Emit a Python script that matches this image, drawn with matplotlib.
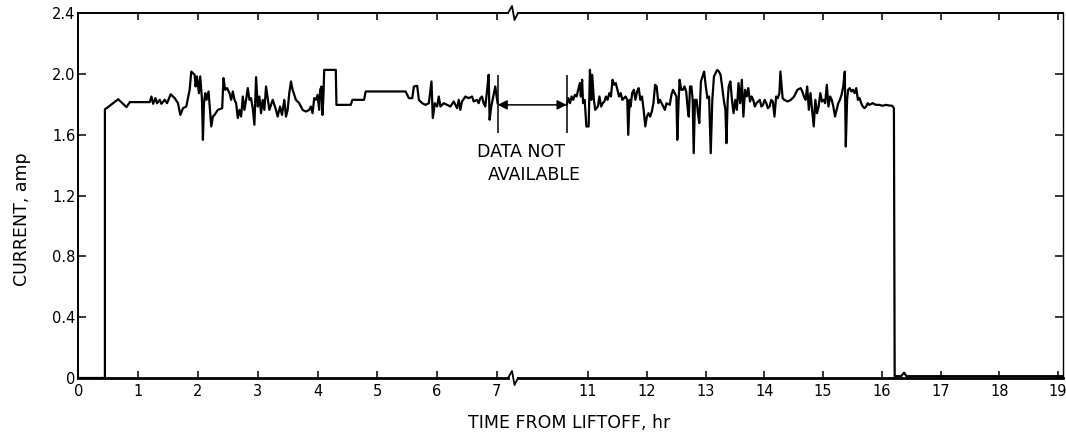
import matplotlib
matplotlib.use("Agg")
import matplotlib.pyplot as plt
from matplotlib.lines import Line2D
from matplotlib.patches import ConnectionPatch

# current trace before the data gap (hours from liftoff, amp)
hours_a = [0.0, 0.445, 0.445, 0.473, 0.667, 0.806, 0.862, 1.195, 1.223, 1.251,
           1.289, 1.317, 1.362, 1.389, 1.445, 1.484, 1.545, 1.612, 1.667, 1.706,
           1.751, 1.806, 1.834, 1.862, 1.889, 1.945, 1.962, 1.984, 2.017, 2.039,
           2.067, 2.084, 2.101, 2.123, 2.145, 2.178, 2.206, 2.223, 2.251, 2.278,
           2.334, 2.406, 2.428, 2.456, 2.489, 2.528, 2.556, 2.584, 2.612, 2.639,
           2.667, 2.695, 2.723, 2.751, 2.778, 2.806, 2.834, 2.862, 2.889, 2.917,
           2.945, 2.973, 3.001, 3.028, 3.056, 3.084, 3.112, 3.139, 3.167, 3.195,
           3.251, 3.306, 3.334, 3.373, 3.406, 3.445, 3.473, 3.501, 3.528, 3.556,
           3.584, 3.639, 3.695, 3.751, 3.806, 3.862, 3.889, 3.917, 3.945, 3.973,
           4.001, 4.028, 4.045, 4.067, 4.084, 4.101, 4.112, 4.306, 4.317, 4.556,
           4.584, 4.778, 4.806, 5.473, 5.528, 5.584, 5.612, 5.667, 5.695, 5.751,
           5.806, 5.862, 5.906, 5.928, 5.962, 6.001, 6.028, 6.056, 6.112, 6.167,
           6.223, 6.278, 6.334, 6.362, 6.389, 6.417, 6.473, 6.528, 6.584, 6.612,
           6.667, 6.695, 6.723, 6.751, 6.778, 6.806, 6.834, 6.862, 6.878, 6.906,
           6.928, 6.951, 6.973, 6.995, 7.012]
amps_a = [0.0, 0.0, 1.767, 1.774, 1.833, 1.781, 1.814, 1.814, 1.851, 1.803,
          1.840, 1.807, 1.829, 1.803, 1.829, 1.807, 1.866, 1.840, 1.807, 1.730,
          1.774, 1.785, 1.840, 1.895, 2.015, 1.994, 1.917, 1.983, 1.873, 1.983,
          1.840, 1.566, 1.807, 1.873, 1.829, 1.884, 1.741, 1.654, 1.719, 1.730,
          1.763, 1.774, 1.972, 1.895, 1.906, 1.873, 1.829, 1.884, 1.829, 1.807,
          1.709, 1.763, 1.719, 1.851, 1.763, 1.829, 1.906, 1.829, 1.840, 1.774,
          1.665, 1.978, 1.785, 1.851, 1.741, 1.829, 1.763, 1.917, 1.840, 1.763,
          1.829, 1.763, 1.719, 1.785, 1.730, 1.829, 1.719, 1.763, 1.873, 1.950,
          1.895, 1.829, 1.807, 1.763, 1.752, 1.763, 1.785, 1.741, 1.840, 1.829,
          1.862, 1.763, 1.895, 1.917, 1.730, 1.873, 2.026, 2.026, 1.796, 1.796,
          1.829, 1.829, 1.884, 1.884, 1.840, 1.840, 1.917, 1.921, 1.829, 1.807,
          1.796, 1.807, 1.950, 1.709, 1.807, 1.785, 1.851, 1.785, 1.807, 1.796,
          1.785, 1.818, 1.774, 1.829, 1.763, 1.818, 1.851, 1.840, 1.851, 1.818,
          1.829, 1.807, 1.840, 1.851, 1.807, 1.785, 1.884, 1.994, 1.698, 1.785,
          1.829, 1.873, 1.917, 1.851, 1.807]

# current trace after the data gap
hours_b = [10.637, 10.666, 10.694, 10.721, 10.749, 10.777, 10.805, 10.833, 10.861, 10.878,
           10.900, 10.916, 10.944, 10.972, 11.011, 11.033, 11.056, 11.072, 11.100, 11.123,
           11.167, 11.195, 11.223, 11.251, 11.278, 11.306, 11.334, 11.362, 11.390, 11.418,
           11.446, 11.473, 11.501, 11.529, 11.557, 11.585, 11.613, 11.640, 11.668, 11.685,
           11.707, 11.724, 11.752, 11.780, 11.807, 11.835, 11.863, 11.891, 11.919, 11.947,
           11.975, 12.002, 12.030, 12.058, 12.086, 12.114, 12.142, 12.169, 12.197, 12.225,
           12.281, 12.309, 12.336, 12.392, 12.420, 12.448, 12.476, 12.504, 12.520, 12.543,
           12.559, 12.587, 12.615, 12.643, 12.671, 12.699, 12.715, 12.737, 12.760, 12.782,
           12.799, 12.821, 12.849, 12.871, 12.894, 12.922, 12.949, 12.977, 13.005, 13.033,
           13.061, 13.089, 13.116, 13.144, 13.172, 13.200, 13.228, 13.256, 13.283, 13.311,
           13.339, 13.356, 13.378, 13.395, 13.423, 13.450, 13.478, 13.506, 13.534, 13.562,
           13.590, 13.618, 13.645, 13.673, 13.701, 13.729, 13.757, 13.785, 13.812, 13.840,
           13.868, 13.896, 13.924, 13.952, 13.979, 14.007, 14.035, 14.063, 14.091, 14.119,
           14.146, 14.174, 14.202, 14.230, 14.258, 14.275, 14.297, 14.313, 14.341, 14.397,
           14.453, 14.508, 14.564, 14.620, 14.648, 14.675, 14.703, 14.731, 14.759, 14.787,
           14.815, 14.842, 14.870, 14.898, 14.926, 14.954, 14.982, 15.009, 15.037, 15.065,
           15.093, 15.121, 15.149, 15.176, 15.204, 15.232, 15.260, 15.288, 15.316, 15.344,
           15.371, 15.388, 15.410, 15.427, 15.455, 15.483, 15.511, 15.539, 15.566, 15.594,
           15.622, 15.650, 15.678, 15.706, 15.733, 15.761, 15.789, 15.845, 15.900, 15.956,
           16.012, 16.067, 16.123, 16.179, 16.207, 16.220, 16.330, 16.380, 16.420, 19.080]
amps_b = [1.796, 1.840, 1.807, 1.851, 1.829, 1.862, 1.851, 1.895, 1.939, 1.851,
          1.961, 1.807, 1.829, 1.654, 1.654, 2.026, 1.829, 1.994, 1.829, 1.763,
          1.785, 1.851, 1.785, 1.807, 1.818, 1.851, 1.829, 1.873, 1.851, 1.961,
          1.928, 1.939, 1.895, 1.851, 1.873, 1.829, 1.840, 1.851, 1.829, 1.599,
          1.829, 1.785, 1.873, 1.895, 1.829, 1.884, 1.906, 1.829, 1.851, 1.763,
          1.654, 1.719, 1.741, 1.719, 1.752, 1.807, 1.928, 1.917, 1.807, 1.829,
          1.785, 1.763, 1.807, 1.796, 1.862, 1.895, 1.873, 1.851, 1.566, 1.829,
          1.961, 1.895, 1.895, 1.917, 1.884, 1.763, 1.719, 1.917, 1.917, 1.829,
          1.478, 1.829, 1.829, 1.741, 1.676, 1.950, 1.983, 2.015, 1.917, 1.840,
          1.851, 1.478, 1.829, 1.983, 2.004, 2.026, 2.015, 1.994, 1.917, 1.829,
          1.763, 1.544, 1.829, 1.917, 1.950, 1.829, 1.741, 1.829, 1.763, 1.939,
          1.807, 1.961, 1.719, 1.895, 1.851, 1.906, 1.818, 1.851, 1.829, 1.785,
          1.807, 1.818, 1.829, 1.785, 1.796, 1.829, 1.807, 1.774, 1.785, 1.829,
          1.818, 1.719, 1.851, 1.840, 1.873, 2.015, 1.917, 1.840, 1.829, 1.818,
          1.829, 1.851, 1.895, 1.906, 1.884, 1.851, 1.829, 1.917, 1.763, 1.873,
          1.763, 1.654, 1.829, 1.741, 1.785, 1.873, 1.818, 1.829, 1.807, 1.928,
          1.785, 1.851, 1.829, 1.785, 1.719, 1.763, 1.807, 1.829, 1.862, 1.917,
          2.015, 1.522, 1.829, 1.895, 1.906, 1.884, 1.895, 1.873, 1.906, 1.829,
          1.840, 1.807, 1.785, 1.774, 1.785, 1.807, 1.796, 1.807, 1.796, 1.796,
          1.790, 1.796, 1.792, 1.790, 1.774, 0.012, 0.012, 0.035, 0.012, 0.012]

gap_start, gap_end = 7.012, 10.637
arrow_level = 1.796
marker_low, marker_high = 1.61, 1.994

ticks_a = [0, 1, 2, 3, 4, 5, 6, 7]
ticks_b = [11, 12, 13, 14, 15, 16, 17, 18, 19]
yticks = [0, 0.4, 0.8, 1.2, 1.6, 2.0, 2.4]
ylabels = ["0", "0.4", "0.8", "1.2", "1.6", "2.0", "2.4"]

W, H = 1066, 438
fig = plt.figure(figsize=(W / 100, H / 100), dpi=100)


def box(x0, y0, x1, y1):
    return [x0 / W, 1 - y1 / H, (x1 - x0) / W, (y1 - y0) / H]


# left panel: 60 px per hour; right panel: 11 at ~588 px, 19 at ~1058 px
ax1 = fig.add_axes(box(78.3, 13, 508, 378))
ax2 = fig.add_axes(box(518, 13, 1063, 378))
ax1.set_xlim(0, (508 - 78.3) / 59.8)
rate_b = (1058 - 588) / 8.0
ax2.set_xlim(11 - (588 - 518) / rate_b, 11 + (1063 - 588) / rate_b)

ax1.plot(hours_a, amps_a, color="black", lw=1.6, clip_on=False)
ax2.plot(hours_b, amps_b, color="black", lw=1.6)

for ax in (ax1, ax2):
    ax.set_facecolor("none")
    ax.set_ylim(0, 2.4)
    ax.set_yticks(yticks)
    ax.spines["top"].set_linewidth(1.4)
    ax.spines["bottom"].set_linewidth(2.0)
    ax.tick_params(axis="x", direction="in", top=True, bottom=True,
                   length=5, width=1.1, labelsize=10.5, pad=4.5)
    ax.tick_params(axis="y", direction="in", length=5.5, width=1.1,
                   labelsize=10.5, pad=2)

ax1.set_xticks(ticks_a)
ax2.set_xticks(ticks_b)
ax1.set_yticklabels(ylabels)
ax1.spines["right"].set_visible(False)
ax1.spines["left"].set_linewidth(1.4)
ax1.tick_params(axis="y", left=True, right=False)
ax2.spines["left"].set_visible(False)
ax2.spines["right"].set_linewidth(1.0)
ax2.tick_params(axis="y", left=False, right=True, labelleft=False)

# data-not-available markers
ax1.vlines([gap_start], marker_low, marker_high, color="black", lw=1.1)
ax2.vlines([gap_end], marker_low, marker_high, color="black", lw=1.1)
con = ConnectionPatch(xyA=(gap_start, arrow_level), coordsA=ax1.transData,
                      xyB=(gap_end, arrow_level), coordsB=ax2.transData,
                      arrowstyle="<|-|>", mutation_scale=14, lw=1.1,
                      color="black", shrinkA=0, shrinkB=0)
fig.add_artist(con)
fig.text(477 / W, 1 - 152 / H, "DATA NOT", fontsize=12.5, ha="left",
         va="center")
fig.text(488 / W, 1 - 175 / H, "AVAILABLE", fontsize=12.5, ha="left",
         va="center")

# axis break zigzags
zx = [508, 512, 514.5, 518]
zdy = [0, 7, -7, 0]
for base in (378, 13):
    fig.add_artist(Line2D([x / W for x in zx],
                          [1 - (base - d) / H for d in zdy],
                          color="black", lw=1.3))

fig.text(22 / W, 1 - 219 / H, "CURRENT, amp", rotation=90, fontsize=12.5,
         ha="center", va="center")
fig.text(569 / W, 1 - 423 / H, "TIME FROM LIFTOFF, hr", fontsize=12.5,
         ha="center", va="center")

fig.savefig("out.png", dpi=100)
